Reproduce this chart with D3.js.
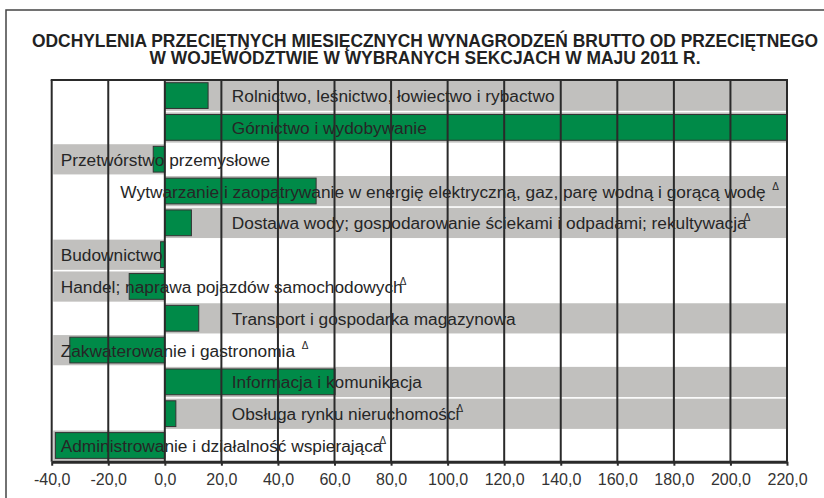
<!DOCTYPE html>
<html>
<head>
<meta charset="utf-8">
<script src="https://cdn.jsdelivr.net/npm/d3@7"></script>
<style>
  body { margin: 0; background: #fff; }
  text { font-family: "Liberation Sans", Arial, sans-serif; }
</style>
</head>
<body>
<svg id="chart" width="824" height="498"></svg>
<script>
var titleLines = [
	"ODCHYLENIA PRZECIĘTNYCH MIESIĘCZNYCH WYNAGRODZEŃ BRUTTO OD PRZECIĘTNEGO",
	"W WOJEWÓDZTWIE W WYBRANYCH SEKCJACH W MAJU 2011 R."
];
var categories = [
	"Rolnictwo, leśnictwo, łowiectwo i rybactwo",
	"Górnictwo i wydobywanie",
	"Przetwórstwo przemysłowe",
	"Wytwarzanie i zaopatrywanie w energię elektryczną, gaz, parę wodną i gorącą wodę  ",
	"Dostawa wody; gospodarowanie ściekami i odpadami; rekultywacja",
	"Budownictwo",
	"Handel; naprawa pojazdów samochodowych",
	"Transport i gospodarka magazynowa",
	"Zakwaterowanie i gastronomia  ",
	"Informacja i komunikacja",
	"Obsługa rynku nieruchomości",
	"Administrowanie i działalność wspierająca"
];
// odchylenie w %
var values = [15.3, 220.0, -4.1, 53.5, 9.4, -1.5, -12.6, 12.0, -33.6, 60.2, 3.9, -38.7];
// znak Δ przy nazwie sekcji
var marks = [false, false, false, true, true, false, true, false, true, false, true, true];
var tickValues = [-40, -20, 0, 20, 40, 60, 80, 100, 120, 140, 160, 180, 200, 220];

function drawChart() {
	var svg = d3.select("#chart");
	var plotLeft = 51.7, plotRight = 787, plotTop = 80, plotBottom = 461.7;

	var x = d3.scaleLinear().domain([-40, 220]).range([plotLeft, plotRight]);
	var y = d3.scaleBand().domain(categories).range([plotTop, plotBottom]);
	var step = y.bandwidth();
	var pl = d3.formatLocale({decimal: ",", thousands: " ", grouping: [3], currency: ["", " zł"], minus: "-"});
	var fmt = pl.format(".1f");

	// outer frame
	svg.append("rect")
		.attr("x", 6).attr("y", 10)
		.attr("width", 830).attr("height", 500)
		.style("fill", "none").style("stroke", "#444").style("stroke-width", 1.5);

	// title, squeezed like the narrow font of the original
	var title = svg.append("g")
		.style("font-weight", "bold").style("font-size", "18px").style("fill", "#222");
	var t1 = title.append("text").attr("x", 425).attr("y", 47).attr("text-anchor", "middle").text(titleLines[0]);
	var t2 = title.append("text").attr("x", 425).attr("y", 64).attr("text-anchor", "middle").text(titleLines[1]);
	var k = 786 / t1.node().getComputedTextLength();
	t2.attr("textLength", t2.node().getComputedTextLength() * k).attr("lengthAdjust", "spacingAndGlyphs");
	t1.attr("textLength", 786).attr("lengthAdjust", "spacingAndGlyphs");

	var rows = svg.append("g").selectAll("g")
		.data(categories.map(function(c, i) { return {name: c, value: values[i], mark: marks[i]}; }))
		.enter().append("g");

	// grey background band, on the side of the value
	rows.append("rect")
		.attr("x", function(d) { return d.value >= 0 ? x(0) : x(-40) + 1.5; })
		.attr("y", function(d) { return y(d.name) + 0.6; })
		.attr("width", function(d) { return d.value >= 0 ? x(220) - x(0) : x(0) - x(-40) - 1.5; })
		.attr("height", step - 1.6)
		.style("fill", "#c1c0be");

	rows.append("rect")
		.attr("x", function(d) { return x(Math.min(0, d.value)); })
		.attr("y", function(d) { return y(d.name) + step * 0.085; })
		.attr("width", function(d) { return Math.abs(x(d.value) - x(0)); })
		.attr("height", step * 0.81)
		.style("fill", "#008a48").style("stroke", "#333").style("stroke-width", 1);

	var labels = rows.append("text")
		.attr("y", function(d) { return y(d.name) + step / 2 + 6.3; })
		.style("font-size", "17.3px").style("fill", "#262626").style("white-space", "pre");
	labels.append("tspan").text(function(d) { return d.name; });
	labels.filter(function(d) { return d.mark; }).append("tspan")
		.attr("dy", -8).attr("dx", -3)
		.style("font-size", "10px")
		.text("Δ");
	labels.attr("x", function(d) {
		if (d.value < 0) return x(-40) + 9;
		var w = this.getComputedTextLength();
		return Math.min(x(0) + 67, plotRight - w - 5);
	});

	// grid
	svg.append("g").selectAll("line")
		.data(tickValues).enter().append("line")
		.attr("x1", function(d) { return x(d); }).attr("x2", function(d) { return x(d); })
		.attr("y1", plotTop).attr("y2", plotBottom)
		.style("stroke", "#2a2a2a").style("stroke-width", 2);
	svg.append("line")
		.attr("x1", plotLeft - 1).attr("x2", plotRight + 1).attr("y1", plotTop).attr("y2", plotTop)
		.style("stroke", "#2a2a2a").style("stroke-width", 2);

	var axis = svg.append("g")
		.attr("transform", "translate(0," + plotBottom + ")")
		.call(d3.axisBottom(x).tickValues(tickValues).tickFormat(fmt).tickSizeInner(4).tickSizeOuter(0).tickPadding(8));
	axis.select(".domain").style("stroke", "#2a2a2a").style("stroke-width", 3);
	axis.selectAll(".tick line").style("stroke", "#2a2a2a").style("stroke-width", 2);
	axis.selectAll(".tick text")
		.style("font-family", "'Liberation Sans', Arial, sans-serif")
		.style("font-size", "16px").style("fill", "#333");
}

drawChart();
</script>
</body>
</html>
